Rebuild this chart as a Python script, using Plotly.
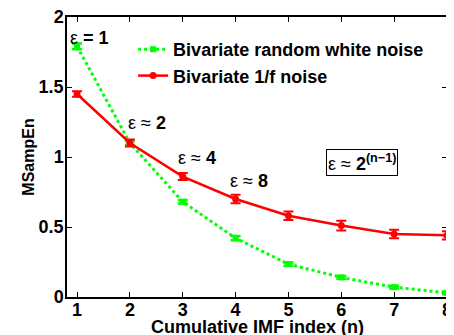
import plotly.graph_objects as go

n_index = [1, 2, 3, 4, 5, 6, 7, 8]
white_noise = [1.79, 1.10, 0.68, 0.42, 0.235, 0.14, 0.07, 0.03]
white_err = [0.02, 0.015, 0.012, 0.015, 0.012, 0.01, 0.01, 0.01]
pink_noise = [1.45, 1.10, 0.86, 0.70, 0.58, 0.51, 0.45, 0.44]
pink_err = [0.02, 0.025, 0.025, 0.03, 0.03, 0.035, 0.03, 0.03]
x_ticks = [1, 2, 3, 4, 5, 6, 7, 8]
y_ticks = [0, 0.5, 1, 1.5, 2]
y_tick_text = ["0", "0.5", "1", "1.5", "2"]

FONT = "Liberation Sans, Arial, sans-serif"

fig = go.Figure()
fig.add_trace(go.Scatter(
    x=n_index, y=white_noise, name="<b>Bivariate random white noise</b>",
    mode="lines+markers", cliponaxis=False,
    line=dict(color="#00ff00", width=3, dash="dot"),
    marker=dict(symbol="square", size=6, color="#00ff00"),
    error_y=dict(type="data", array=white_err, color="#00ff00", thickness=2.5, width=5),
))
fig.add_trace(go.Scatter(
    x=n_index, y=pink_noise, name="<b>Bivariate 1/f noise</b>",
    mode="lines+markers", cliponaxis=False,
    line=dict(color="#ff0000", width=2.5),
    marker=dict(symbol="circle", size=7, color="#ff0000"),
    error_y=dict(type="data", array=pink_err, color="#ff0000", thickness=2, width=5),
))

ann_font = dict(family=FONT, size=18, color="black")
fig.add_annotation(x=1.23, y=1.85, text="ε <b>= 1</b>", showarrow=False, font=ann_font)
fig.add_annotation(x=2.32, y=1.24, text="ε ≈ <b>2</b>", showarrow=False, font=ann_font)
fig.add_annotation(x=3.27, y=0.99, text="ε ≈ <b>4</b>", showarrow=False, font=ann_font)
fig.add_annotation(x=4.25, y=0.83, text="ε ≈ <b>8</b>", showarrow=False, font=ann_font)
fig.add_annotation(x=6.4, y=0.96, text="ε ≈ <b>2<sup>(n−1)</sup></b>", showarrow=False,
                   font=ann_font, bordercolor="black", borderwidth=1, borderpad=1,
                   bgcolor="white")
# x-axis title, placed as in the reference (close to the window's bottom edge)
fig.add_annotation(x=0.5, y=-0.066, xref="paper", yref="paper", xanchor="center",
                   yanchor="top", text="<b>Cumulative IMF index (n)</b>", showarrow=False,
                   font=ann_font)

# page body has an 8px margin, so the figure is sized to fill the rest of the window
fig.update_layout(
    width=446, height=327,
    margin=dict(l=59, r=7, t=9, b=38),
    paper_bgcolor="white", plot_bgcolor="white",
    font=dict(family=FONT, size=18, color="black"),
    showlegend=True,
    legend=dict(x=0.174, y=0.95, xanchor="left", yanchor="top",
                bgcolor="rgba(0,0,0,0)", font=dict(family=FONT, size=18, color="black"),
                itemwidth=30, tracegroupgap=0),
    xaxis=dict(range=[0.81, 8.0001], tickvals=x_ticks, ticktext=[f"<b>{v}</b>" for v in x_ticks],
               ticks="inside", ticklen=5, tickcolor="black", showline=True, linecolor="black",
               linewidth=1.5, mirror="ticks", showgrid=False, zeroline=False, automargin=False,
               tickfont=dict(family=FONT, size=18), ticklabelstandoff=-4,
               ticklabeloverflow="allow"),
    yaxis=dict(range=[0, 2.0001], tickvals=y_ticks, ticktext=[f"<b>{t}</b>" for t in y_tick_text],
               ticks="inside", ticklen=5, tickcolor="black", showline=True, linecolor="black",
               linewidth=1.5, mirror="ticks", showgrid=False, zeroline=False, automargin=False,
               tickfont=dict(family=FONT, size=18), ticklabelstandoff=-2,
               ticklabeloverflow="allow",
               title=dict(text="<b>MSampEn</b>", standoff=0, font=dict(family=FONT, size=16))),
)

fig.write_html("out.html")
